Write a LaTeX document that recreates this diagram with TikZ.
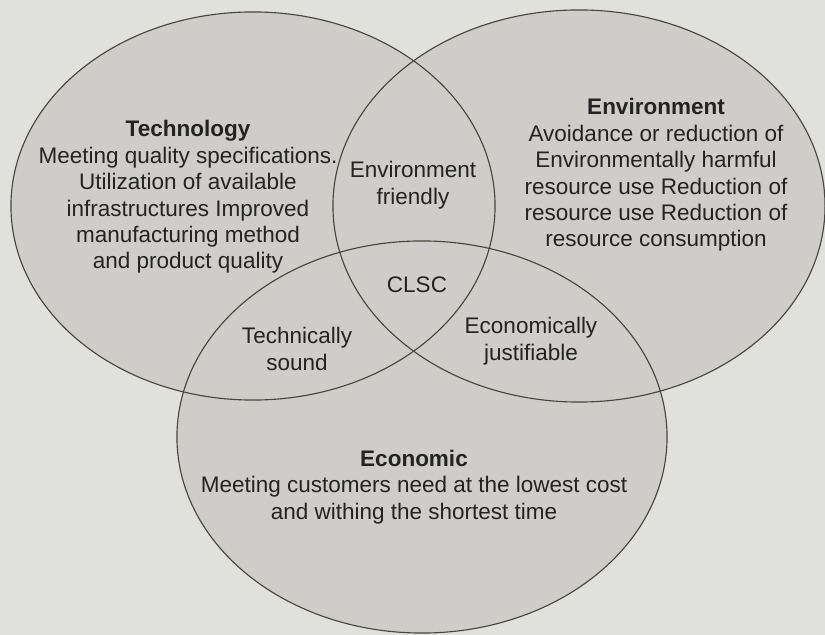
\documentclass[tikz,border=0pt]{standalone}
\usepackage{fontspec}
\setmainfont{Liberation Sans}
\definecolor{bgc}{RGB}{224,224,221}
\definecolor{fillc}{RGB}{206,205,201}
\definecolor{linec}{RGB}{70,70,62}
\definecolor{textc}{RGB}{35,35,35}
\tikzset{
  venn/.style={draw=linec, line width=0.8pt},
  vennfill/.style={fill=fillc},
  lbl/.style={align=center, text=textc, inner sep=0pt, font=\fontsize{16}{18.8}\selectfont},
}
\begin{document}
\begin{tikzpicture}[x=0.025cm, y=-0.025cm]
\fill[bgc] (0,0) rectangle (825,635);
\useasboundingbox (0,0) rectangle (825,635);
% fills
\fill[vennfill] (253,206) ellipse [x radius=6.05cm, y radius=4.85cm];
\fill[vennfill] (579,206) ellipse [x radius=6.15cm, y radius=4.9cm];
\fill[vennfill] (422,437) ellipse [x radius=6.125cm, y radius=4.9cm];
% outlines
\draw[venn] (253,206) ellipse [x radius=6.05cm, y radius=4.85cm];
\draw[venn] (579,206) ellipse [x radius=6.15cm, y radius=4.9cm];
\draw[venn] (422,437) ellipse [x radius=6.125cm, y radius=4.9cm];
% texts
\node[lbl] (tech) at (188,197) {\textbf{Technology}\\Meeting quality specifications.\\Utilization of available\\infrastructures Improved\\manufacturing method\\and product quality};
\node[lbl] (env) at (656,175) {\textbf{Environment}\\Avoidance or reduction of\\Environmentally harmful\\resource use Reduction of\\resource use Reduction of\\resource consumption};
\node[lbl] (eco) at (414,487) {\textbf{Economic}\\Meeting customers need at the lowest cost\\and withing the shortest time};
\node[lbl] (envfr) at (413,185) {Environment\\friendly};
\node[lbl] (clsc) at (417,285) {CLSC};
\node[lbl] (techs) at (297,349) {Technically\\sound};
\node[lbl] (econj) at (531,341) {Economically\\justifiable};
\end{tikzpicture}
\end{document}
